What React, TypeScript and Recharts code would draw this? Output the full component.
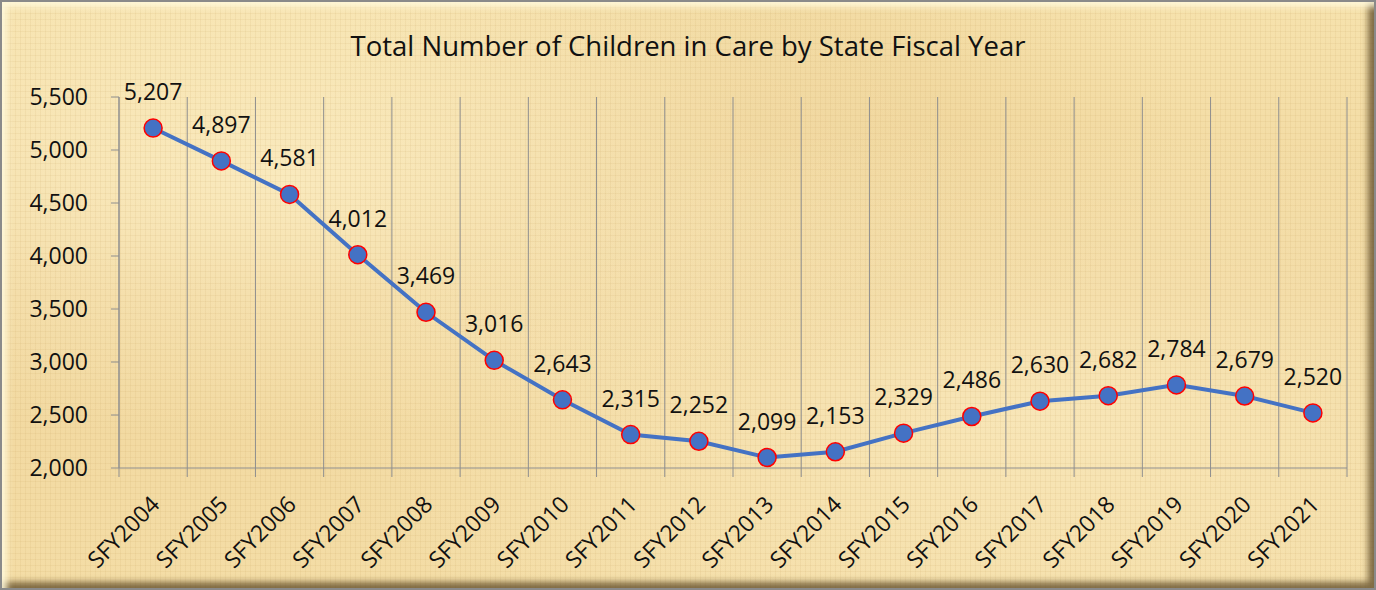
import React from 'react';
import { LineChart, Line, XAxis, YAxis, ReferenceLine, LabelList } from 'recharts';

// 年度ラベルと在籍児童数
const years = [
  'SFY2004', 'SFY2005', 'SFY2006', 'SFY2007', 'SFY2008', 'SFY2009',
  'SFY2010', 'SFY2011', 'SFY2012', 'SFY2013', 'SFY2014', 'SFY2015',
  'SFY2016', 'SFY2017', 'SFY2018', 'SFY2019', 'SFY2020', 'SFY2021',
];
const childrenInCare = [
  5207, 4897, 4581, 4012, 3469, 3016, 2643, 2315, 2252,
  2099, 2153, 2329, 2486, 2630, 2682, 2784, 2679, 2520,
];
const yTicks = [2000, 2500, 3000, 3500, 4000, 4500, 5000, 5500];

const FONT = '"Open Sans", "DejaVu Sans", sans-serif';
const GRID = '#8e8e8e';

const data = years.map((year, i) => ({ idx: i, year, value: childrenInCare[i] }));

// カテゴリの境界（グリッド線と目盛り）
const boundaries = years.map((_, i) => i - 0.5).concat(years.length - 0.5);
const xTicks = [...boundaries, ...years.map((_, i) => i)].sort((a, b) => a - b);

const fmt = (v: number) => v.toLocaleString('en-US');

const XTick = (props: any) => {
  const { x, y, payload } = props;
  const v = payload.value as number;
  if (v % 1 !== 0) {
    return <line x1={x} y1={y} x2={x} y2={y + 9} stroke={GRID} strokeWidth={1} />;
  }
  return (
    <text
      x={x + 8}
      y={y + 38}
      textAnchor="end"
      transform={`rotate(-45, ${x + 8}, ${y + 38})`}
      fontFamily={FONT}
      fontSize={23}
      fill="#111"
    >
      {years[v]}
    </text>
  );
};

const papyrus = [
  'repeating-linear-gradient(90deg, rgba(190,150,80,0.10) 0px, rgba(190,150,80,0.10) 1px, transparent 1px, transparent 5px)',
  'repeating-linear-gradient(0deg, rgba(190,150,80,0.10) 0px, rgba(190,150,80,0.10) 1px, transparent 1px, transparent 6px)',
  'radial-gradient(ellipse at 20% 30%, rgba(255,245,210,0.55), transparent 45%)',
  'radial-gradient(ellipse at 75% 70%, rgba(255,245,210,0.45), transparent 50%)',
  'radial-gradient(ellipse at 55% 20%, rgba(230,195,130,0.35), transparent 40%)',
  'linear-gradient(180deg, #f6e2ad 0%, #f1d79e 50%, #f4dda6 100%)',
].join(', ');

export default function App() {
  return (
    <div
      style={{
        position: 'absolute',
        left: 0,
        top: 0,
        width: 1376,
        height: 590,
        background: papyrus,
        overflow: 'hidden',
      }}
    >
      <div
        style={{
          position: 'absolute',
          top: 28,
          left: 0,
          width: 1376,
          textAlign: 'center',
          fontFamily: FONT,
          fontSize: 27.5,
          color: '#111',
          lineHeight: '36px',
        }}
      >
        Total Number of Children in Care by State Fiscal Year
      </div>
      <div style={{ position: 'absolute', left: 0, top: 0 }}>
        <LineChart width={1376} height={590} data={data} margin={{ top: 97, right: 29, bottom: 0, left: 0 }}>
          {boundaries.map((b) => (
            <ReferenceLine key={b} x={b} stroke={GRID} strokeWidth={1} />
          ))}
          <XAxis
            dataKey="idx"
            type="number"
            domain={[-0.5, years.length - 0.5]}
            ticks={xTicks}
            interval={0}
            height={122}
            tickSize={0}
            tickMargin={0}
            tickLine={false}
            axisLine={{ stroke: GRID, strokeWidth: 1 }}
            tick={<XTick />}
          />
          <YAxis
            domain={[2000, 5500]}
            ticks={yTicks}
            width={119}
            tickSize={8}
            tickMargin={23}
            tickFormatter={fmt}
            axisLine={{ stroke: GRID, strokeWidth: 1 }}
            tickLine={{ stroke: GRID, strokeWidth: 1 }}
            tick={{ fontFamily: FONT, fontSize: 23, fill: '#111' }}
          />
          <Line
            dataKey="value"
            stroke="#4472C4"
            strokeWidth={4}
            dot={{ r: 9, fill: '#4472C4', stroke: '#FF0000', strokeWidth: 1.5 }}
            isAnimationActive={false}
          >
            <LabelList
              dataKey="value"
              position="top"
              offset={28}
              formatter={(v: any) => fmt(Number(v))}
              style={{ fontFamily: FONT, fontSize: 23, fill: '#111' }}
            />
          </Line>
        </LineChart>
      </div>
      <div
        style={{
          position: 'absolute',
          inset: 0,
          border: '2px solid #8a8a8a',
          boxShadow:
            'inset 7px 7px 6px -2px rgba(255,248,220,0.9), inset -8px -8px 6px -2px rgba(90,70,35,0.75)',
          pointerEvents: 'none',
        }}
      />
    </div>
  );
}
